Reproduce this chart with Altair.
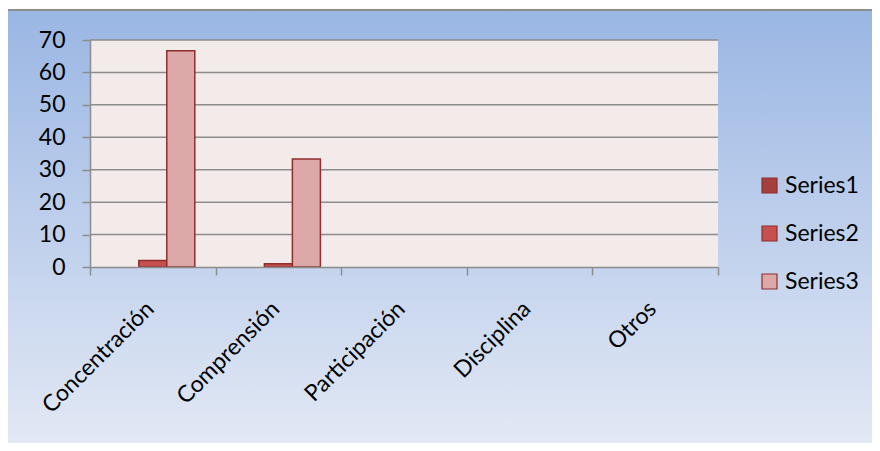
import altair as alt
import pandas as pd

categories = ["Concentración", "Comprensión", "Participación", "Disciplina", "Otros"]
series_names = ["Series1", "Series2", "Series3"]
series1 = [0, 0, 0, 0, 0]
series2 = [2, 1, 0, 0, 0]
series3 = [66.7, 33.3, 0, 0, 0]
y_ticks = [0, 10, 20, 30, 40, 50, 60, 70]
grid_values = [10, 20, 30, 40, 50, 60, 70]

rows = []
for name, vals in zip(series_names, [series1, series2, series3]):
    for c, v in zip(categories, vals):
        rows.append({"cat": c, "series": name, "value": v})
df = pd.DataFrame(rows)
df_bars = df[df["value"] > 0]

W, H = 628, 227
PL, PT, PR, PB = 82, 32, 154, 176
FONT = "Lato"
FS = 23

one = pd.DataFrame({"a": [0]})

y_axis = alt.Axis(title=None, values=y_ticks, grid=False,
                  labelFontSize=FS, labelFont=FONT, labelColor="#000000",
                  domainColor="#8C8C8C", domainWidth=1.5,
                  tickColor="#8C8C8C", tickWidth=1.5, tickSize=8,
                  labelPadding=17, labelOverlap=False, zindex=1)
y_scale = alt.Scale(domain=[0, 70], nice=False)

bg = alt.Chart(one).mark_rect(
    fill=alt.Gradient(
        gradient="linear",
        stops=[alt.GradientStop(color="#9AB6E3", offset=0),
               alt.GradientStop(color="#E3E9F5", offset=1)],
        x1=0, x2=0, y1=0, y2=1),
    stroke="#8C8C8C", strokeWidth=2,
).encode(x=alt.value(-PL - 2), x2=alt.value(W + PR + 4),
         y=alt.value(-PT + 2), y2=alt.value(H + PB + 4))

plot_bg = alt.Chart(one).mark_rect(fill="#F3EAEA").encode(
    x=alt.value(0), x2=alt.value(W), y=alt.value(0), y2=alt.value(H))

grid = alt.Chart(pd.DataFrame({"value": grid_values})).mark_rule(
    color="#8C8C8C", strokeWidth=1.5).encode(
    y=alt.Y("value:Q", scale=y_scale, axis=y_axis), x=alt.value(0), x2=alt.value(W))

bars = alt.Chart(df_bars).mark_bar(stroke="#8E2F2D", strokeWidth=1.5).encode(
    x=alt.X("cat:N", sort=categories,
            scale=alt.Scale(domain=categories, paddingInner=0, paddingOuter=0),
            axis=alt.Axis(title=None, labelAngle=-45, tickBand="extent",
                          labelFontSize=FS, labelFont=FONT, labelColor="#000000",
                          domainColor="#8C8C8C", domainWidth=1.5,
                          tickColor="#8C8C8C", tickWidth=1.5, tickSize=8,
                          labelPadding=30, labelOffset=-3, labelOverlap=False,
                          labelBaseline="middle", labelAlign="right", zindex=1)),
    xOffset=alt.XOffset("series:N",
                        scale=alt.Scale(domain=series_names, paddingInner=0, paddingOuter=0.743)),
    y=alt.Y("value:Q", scale=y_scale, axis=y_axis),
    color=alt.Color("series:N",
                    scale=alt.Scale(domain=series_names,
                                    range=["#A3403E", "#C5504D", "#DCA9A8"]),
                    legend=alt.Legend(title=None, orient="none", legendX=668, legendY=134,
                                      symbolType="square", symbolSize=225,
                                      symbolStrokeColor="#8E2F2D", symbolStrokeWidth=1.2,
                                      labelFontSize=FS, labelFont=FONT, labelColor="#000000",
                                      rowPadding=24, labelOffset=4)),
)

chart = alt.layer(bg, plot_bg, grid, bars).properties(
    width=W, height=H,
    padding={"left": PL, "top": PT, "right": PR, "bottom": PB},
    autosize=alt.AutoSizeParams(type="none"),
).configure_view(stroke=None)

chart.save("out.html", embed_options={"renderer": "svg", "actions": False})
